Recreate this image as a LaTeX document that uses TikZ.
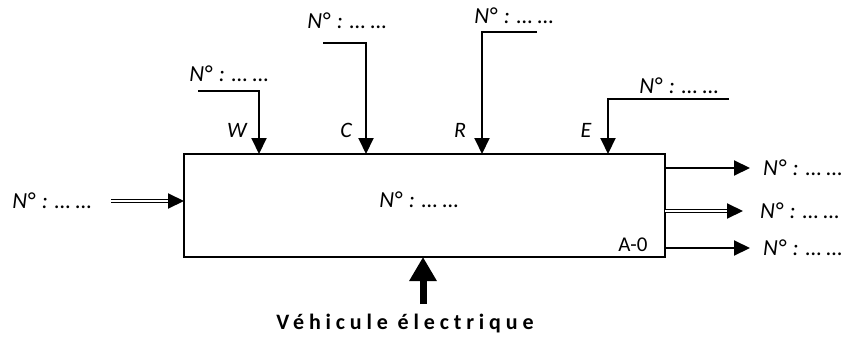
\documentclass[tikz,border=0pt]{standalone}
\usepackage{fontspec}
\setmainfont{Carlito}
\newfontfamily\spacedbold[LetterSpace=22]{Carlito}
\usetikzlibrary{arrows.meta,calc}
\newcommand{\numlab}{N°\hspace{0.3em}:\hspace{0.3em}…\hspace{0.22em}…}
\begin{document}
\begin{tikzpicture}[x=1pt,y=-1pt,
  conn/.style={line width=2pt,-{Triangle[length=16pt,width=15pt]}},
  dbl/.style={double,double distance=2.4pt,line width=1.2pt},
  tipo/.style={-{Triangle[length=16pt,width=15pt]},line width=2pt},
  lab/.style={font=\fontsize{23}{23}\selectfont\itshape,inner sep=0pt},
  letter/.style={font=\fontsize{22}{22}\selectfont\itshape,inner sep=0pt},
  thick arrow/.style={line width=7pt,-{Triangle[length=24pt,width=26pt]}}
]
\useasboundingbox (0,0) rectangle (850,337);
% main box
\node[draw,line width=2pt,minimum width=481pt,minimum height=103pt,inner sep=0pt] (box) at (424.5,205.5) {};
\node[lab] (center) at (419,200) {\numlab};
\node[font=\fontsize{21}{21}\selectfont,inner sep=0pt] (a0) at (633,245) {A-0};
% top inputs
\coordinate (w0) at (198,91); \coordinate (w1) at (259,91); \coordinate (w2) at (259,154);
\coordinate (c0) at (323,43); \coordinate (c1) at (366,43); \coordinate (c2) at (366,154);
\coordinate (r0) at (537,32); \coordinate (r1) at (482,32); \coordinate (r2) at (482,154);
\coordinate (e0) at (729,99); \coordinate (e1) at (608,99); \coordinate (e2) at (608,154);
\draw[conn] (w0) -- (w1) -- (w2);
\draw[conn] (c0) -- (c1) -- (c2);
\draw[conn] (r0) -- (r1) -- (r2);
\draw[conn] (e0) -- (e1) -- (e2);
\node[lab] (wl) at (229,74) {\numlab};
\node[lab] (cl) at (347,21) {\numlab};
\node[lab] (rl) at (514,16) {\numlab};
\node[lab] (el) at (679,86) {\numlab};
\node[letter] (W) at (237,130) {W};
\node[letter] (C) at (346,130) {C};
\node[letter] (R) at (460,130) {R};
\node[letter] (E) at (586,130) {E};
% left input
\coordinate (i0) at (111,201); \coordinate (ih) at (168,201); \coordinate (i1) at (184,201);
\draw[dbl] (i0) -- (ih);
\draw[tipo] (ih) -- (i1);
\node[lab] (il) at (52,201) {\numlab};
% outputs
\coordinate (o1a) at (665,168); \coordinate (o1b) at (750,168);
\coordinate (o2a) at (665,211); \coordinate (o2h) at (727,211); \coordinate (o2b) at (743,211);
\coordinate (o3a) at (665,248); \coordinate (o3b) at (750,248);
\draw[tipo] (o1a) -- (o1b);
\draw[dbl] (o2a) -- (o2h);
\draw[tipo] (o2h) -- (o2b);
\draw[tipo] (o3a) -- (o3b);
\node[lab,anchor=west] (ol1) at (763,168) {\numlab};
\node[lab,anchor=west] (ol2) at (760,211) {\numlab};
\node[lab,anchor=west] (ol3) at (763,248) {\numlab};
% mechanism
\coordinate (m0) at (423,304);
\coordinate (m1) at (423,257);
\draw[thick arrow] (m0) -- (m1);
\node[font=\fontsize{22}{22}\selectfont\spacedbold\bfseries,inner sep=0pt] (veh) at (405,324) {Véhicule électrique};
\end{tikzpicture}
\end{document}
